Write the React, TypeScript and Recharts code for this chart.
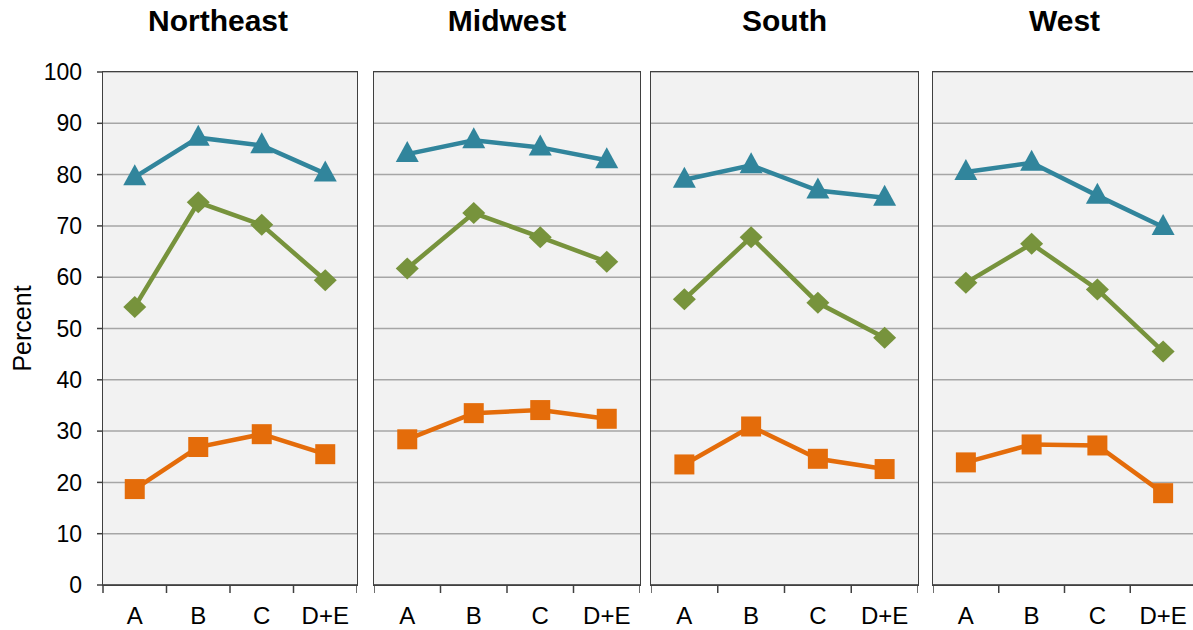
import { LineChart, Line, XAxis, YAxis, CartesianGrid } from "recharts";

// Four regional small multiples sharing one y scale (0–100 %).
const categories = ["A", "B", "C", "D+E"];
const regions = ["Northeast", "Midwest", "South", "West"];
const yTicks = [0, 10, 20, 30, 40, 50, 60, 70, 80, 90, 100];

const triangleSeries = [
  [79.5, 87.2, 85.7, 80.2],
  [84.0, 86.7, 85.3, 82.8],
  [79.0, 81.8, 76.9, 75.5],
  [80.5, 82.3, 75.9, 69.8],
];
const diamondSeries = [
  [54.2, 74.6, 70.2, 59.4],
  [61.7, 72.5, 67.8, 63.0],
  [55.7, 67.8, 55.0, 48.2],
  [58.9, 66.5, 57.6, 45.5],
];
const squareSeries = [
  [18.7, 26.9, 29.4, 25.5],
  [28.4, 33.5, 34.1, 32.4],
  [23.5, 30.9, 24.6, 22.6],
  [23.9, 27.4, 27.2, 17.9],
];

const TEAL = "#31859C";
const GREEN = "#77933C";
const ORANGE = "#E46C0A";
const FONT = "'Liberation Sans', Arial, sans-serif";

const PLOT_TOP = 72;
const PLOT_BOTTOM = 585;
const H = 630;

// plot-area left/right per panel, plus small title nudge
const panels = [
  { left: 103, right: 357, titleShift: -12 },
  { left: 374, right: 640, titleShift: 0 },
  { left: 651, right: 918, titleShift: 0 },
  { left: 933, right: 1196, titleShift: 0 },
];

function Triangle(props: any) {
  const { cx, cy } = props;
  if (cx == null || cy == null) return <g key={props.key} />;
  return (
    <path
      key={props.key}
      d={`M${cx},${cy - 13} L${cx + 11.5},${cy + 8} L${cx - 11.5},${cy + 8} Z`}
      fill={TEAL}
    />
  );
}

function Diamond(props: any) {
  const { cx, cy } = props;
  if (cx == null || cy == null) return <g key={props.key} />;
  return (
    <path
      key={props.key}
      d={`M${cx},${cy - 11} L${cx + 11.5},${cy} L${cx},${cy + 11} L${cx - 11.5},${cy} Z`}
      fill={GREEN}
    />
  );
}

function Square(props: any) {
  const { cx, cy } = props;
  if (cx == null || cy == null) return <g key={props.key} />;
  return <rect key={props.key} x={cx - 10} y={cy - 10} width={20} height={20} fill={ORANGE} />;
}

function makeTick(band: number) {
  return function CatTick(props: any) {
    const { x, payload, index } = props;
    const i = payload?.index ?? index;
    return (
      <g>
        <line x1={x - band / 2} x2={x - band / 2} y1={PLOT_BOTTOM} y2={PLOT_BOTTOM + 8} stroke="#404040" strokeWidth={1.5} />
        {i === categories.length - 1 && (
          <line x1={x + band / 2} x2={x + band / 2} y1={PLOT_BOTTOM} y2={PLOT_BOTTOM + 8} stroke="#404040" strokeWidth={1.5} />
        )}
        <text x={x} y={PLOT_BOTTOM + 39} textAnchor="middle" fontSize={24} fill="#000" fontFamily={FONT}>
          {payload.value}
        </text>
      </g>
    );
  };
}

function Panel({ idx }: { idx: number }) {
  const p = panels[idx];
  const first = idx === 0;
  const chartLeft = first ? 0 : p.left;
  const width = p.right - chartLeft;
  const plotW = p.right - p.left;
  const band = plotW / categories.length;
  const data = categories.map((c, i) => ({
    cat: c,
    tri: triangleSeries[idx][i],
    dia: diamondSeries[idx][i],
    sq: squareSeries[idx][i],
  }));
  const Tick = makeTick(band);
  return (
    <div style={{ position: "absolute", left: chartLeft, top: 0, width, height: H }}>
      <LineChart
        width={width}
        height={H}
        data={data}
        margin={{ top: PLOT_TOP, right: 0, bottom: 0, left: 0 }}
      >
        <CartesianGrid vertical={false} stroke="#A6A6A6" strokeWidth={1.5} fill="#F2F2F2" />
        <XAxis
          dataKey="cat"
          scale="point"
          padding={{ left: band / 2, right: band / 2 }}
          height={H - PLOT_BOTTOM}
          tickLine={false}
          axisLine={{ stroke: "#404040", strokeWidth: 1.5 }}
          tick={<Tick />}
          interval={0}
        />
        <YAxis
          hide={!first}
          width={first ? p.left : 0}
          domain={[0, 100]}
          ticks={yTicks}
          interval={0}
          tickSize={6}
          tickMargin={15}
          axisLine={false}
          tickLine={{ stroke: "#404040", strokeWidth: 1.5 }}
          tick={{ fontSize: 23, fill: "#000", fontFamily: FONT }}
        />
        <Line dataKey="tri" stroke={TEAL} strokeWidth={4.5} dot={Triangle} isAnimationActive={false} />
        <Line dataKey="dia" stroke={GREEN} strokeWidth={4.5} dot={Diamond} isAnimationActive={false} />
        <Line dataKey="sq" stroke={ORANGE} strokeWidth={4.5} dot={Square} isAnimationActive={false} />
      </LineChart>
      <div
        style={{
          position: "absolute",
          left: p.left - chartLeft - 1,
          top: PLOT_TOP - 1,
          width: plotW,
          height: PLOT_BOTTOM - PLOT_TOP,
          border: "1.5px solid #404040",
          pointerEvents: "none",
        }}
      />
      <div
        style={{
          position: "absolute",
          left: p.left - chartLeft + p.titleShift,
          width: plotW,
          top: 4,
          textAlign: "center",
          fontFamily: FONT,
          fontWeight: "bold",
          fontSize: 30,
          color: "#000",
        }}
      >
        {regions[idx]}
      </div>
    </div>
  );
}

export default function App() {
  return (
    <div style={{ position: "absolute", left: 0, top: 0, width: 1193, height: H, background: "#fff", overflow: "hidden" }}>
      {regions.map((r, i) => (
        <Panel key={r} idx={i} />
      ))}
      <svg style={{ position: "absolute", left: 0, top: 0 }} width={50} height={H}>
        <text
          x={0}
          y={0}
          transform={`translate(31, ${(PLOT_TOP + PLOT_BOTTOM) / 2}) rotate(-90)`}
          textAnchor="middle"
          fontSize={25}
          fontFamily={FONT}
          fill="#000"
        >
          Percent
        </text>
      </svg>
    </div>
  );
}
